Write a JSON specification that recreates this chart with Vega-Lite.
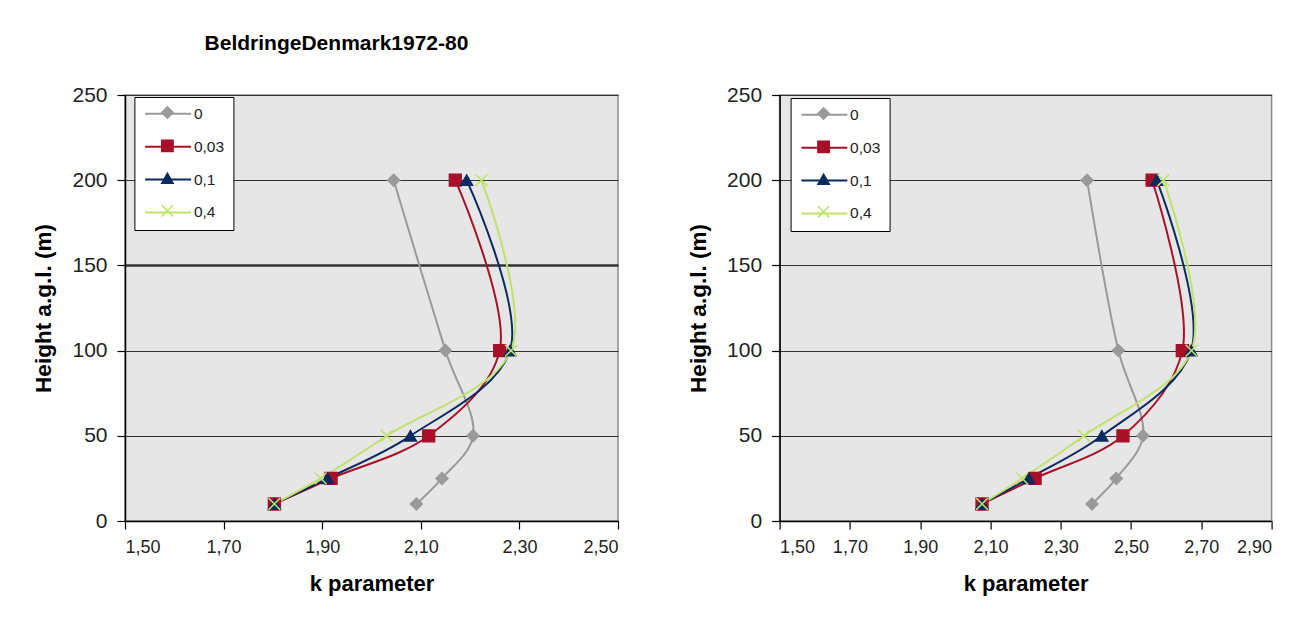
{
  "$schema": "https://vega.github.io/schema/vega-lite/v6.json",
  "background": "white",
  "padding": {"left": 32, "top": 32, "right": 10, "bottom": 10},
  "datasets": {
    "A": [
      {"series": "0", "h": 10, "k": 2.091}, {"series": "0", "h": 25, "k": 2.143}, {"series": "0", "h": 50, "k": 2.206}, {"series": "0", "h": 100, "k": 2.150}, {"series": "0", "h": 200, "k": 2.045},
      {"series": "0,03", "h": 10, "k": 1.803}, {"series": "0,03", "h": 25, "k": 1.918}, {"series": "0,03", "h": 50, "k": 2.116}, {"series": "0,03", "h": 100, "k": 2.260}, {"series": "0,03", "h": 200, "k": 2.170},
      {"series": "0,1", "h": 10, "k": 1.803}, {"series": "0,1", "h": 25, "k": 1.911}, {"series": "0,1", "h": 50, "k": 2.079}, {"series": "0,1", "h": 100, "k": 2.281}, {"series": "0,1", "h": 200, "k": 2.193},
      {"series": "0,4", "h": 10, "k": 1.803}, {"series": "0,4", "h": 25, "k": 1.897}, {"series": "0,4", "h": 50, "k": 2.031}, {"series": "0,4", "h": 100, "k": 2.283}, {"series": "0,4", "h": 200, "k": 2.223}
    ],
    "B": [
      {"series": "0", "h": 10, "k": 2.389}, {"series": "0", "h": 25, "k": 2.458}, {"series": "0", "h": 50, "k": 2.534}, {"series": "0", "h": 100, "k": 2.464}, {"series": "0", "h": 200, "k": 2.375},
      {"series": "0,03", "h": 10, "k": 2.076}, {"series": "0,03", "h": 25, "k": 2.227}, {"series": "0,03", "h": 50, "k": 2.477}, {"series": "0,03", "h": 100, "k": 2.646}, {"series": "0,03", "h": 200, "k": 2.560},
      {"series": "0,1", "h": 10, "k": 2.076}, {"series": "0,1", "h": 25, "k": 2.209}, {"series": "0,1", "h": 50, "k": 2.417}, {"series": "0,1", "h": 100, "k": 2.671}, {"series": "0,1", "h": 200, "k": 2.573},
      {"series": "0,4", "h": 10, "k": 2.076}, {"series": "0,4", "h": 25, "k": 2.190}, {"series": "0,4", "h": 50, "k": 2.366}, {"series": "0,4", "h": 100, "k": 2.672}, {"series": "0,4", "h": 200, "k": 2.592}
    ]
  },
  "bounds": "flush",
  "spacing": 161.6,
  "resolve": {
    "scale": {"x": "independent", "y": "independent", "color": "independent", "fill": "independent", "stroke": "independent", "shape": "independent"},
    "legend": {"color": "independent", "fill": "independent", "stroke": "independent", "shape": "independent"},
    "axis": {"x": "independent", "y": "independent"}
  },
  "hconcat": [
    {
      "width": 493,
      "height": 426,
      "title": {"text": "BeldringeDenmark1972-80", "fontSize": 21, "font": "Liberation Sans", "fontWeight": "bold", "color": "#000", "offset": 30, "dx": -35},
      "data": {"name": "A"},
      "encoding": {
        "x": {"field": "k", "type": "quantitative", "title": "k parameter",
              "scale": {"domain": [1.5, 2.5], "nice": false, "zero": false},
              "axis": {"values": [1.5, 1.7, 1.9, 2.1, 2.3, 2.5], "labelExpr": "replace(format(datum.value, '.2f'), '.', ',')", "grid": false}},
        "y": {"field": "h", "type": "quantitative", "title": "Height a.g.l. (m)",
              "scale": {"domain": [0, 250], "nice": false},
              "axis": {"values": [0, 50, 100, 150, 200, 250], "grid": true,
                       "gridWidth": {"condition": {"test": "datum.value === 150", "value": 2.4}, "value": 1.2}}}
      },
      "layer": [
        {
          "mark": {"type": "line", "interpolate": "catmull-rom", "strokeWidth": 2},
          "encoding": {
            "order": {"field": "h", "type": "quantitative"},
            "color": {"field": "series", "type": "nominal",
                      "scale": {"domain": ["0", "0,03", "0,1", "0,4"], "range": ["#9a9a9a", "#a8102a", "#0b2a60", "#bde36a"]},
                      "legend": {"orient": "none", "legendX": 9.4, "legendY": 2, "title": null, "symbolType": "M-4.6,0H4.6", "symbolSize": 100, "symbolStrokeWidth": 2, "symbolOffset": 17, "labelOffset": 18, "labelFontSize": 15.5, "labelFont": "Liberation Sans", "labelColor": "#222", "fillColor": "white", "strokeColor": "#000", "padding": 9, "rowPadding": 15.9}}
          }
        },
        {
          "mark": {"type": "point", "size": 140, "strokeWidth": 1.5, "opacity": 1},
          "encoding": {
            "fill": {"field": "series", "type": "nominal", "scale": {"range": ["#9a9a9a", "#a8102a", "#0b2a60", "#bde36a"]},
                     "legend": {"orient": "none", "legendX": 9.4, "legendY": 1, "title": null, "symbolSize": 130, "symbolStrokeWidth": 1.5, "symbolOffset": 16.5, "labelExpr": "''", "labelFontSize": 15, "padding": 9, "rowPadding": 14.4}},
            "stroke": {"field": "series", "type": "nominal", "scale": {"range": ["#9a9a9a", "#a8102a", "#0b2a60", "#bde36a"]},
                     "legend": {"orient": "none", "legendX": 9.4, "legendY": 1, "title": null, "symbolSize": 130, "symbolStrokeWidth": 1.5, "symbolOffset": 16.5, "labelExpr": "''", "labelFontSize": 15, "padding": 9, "rowPadding": 14.4}},
            "shape": {"field": "series", "type": "nominal", "scale": {"range": ["diamond", "square", "triangle-up", "M-1,-1L1,1M-1,1L1,-1"]},
                     "legend": {"orient": "none", "legendX": 9.4, "legendY": 1, "title": null, "symbolSize": 130, "symbolStrokeWidth": 1.5, "symbolOffset": 16.5, "labelExpr": "''", "labelFontSize": 15, "padding": 9, "rowPadding": 14.4}}
          }
        }
      ]
    },
    {
      "width": 492,
      "height": 426,
      "data": {"name": "B"},
      "encoding": {
        "x": {"field": "k", "type": "quantitative", "title": "k parameter",
              "scale": {"domain": [1.5, 2.9], "nice": false, "zero": false},
              "axis": {"values": [1.5, 1.7, 1.9, 2.1, 2.3, 2.5, 2.7, 2.9], "labelExpr": "replace(format(datum.value, '.2f'), '.', ',')", "grid": false}},
        "y": {"field": "h", "type": "quantitative", "title": "Height a.g.l. (m)",
              "scale": {"domain": [0, 250], "nice": false},
              "axis": {"values": [0, 50, 100, 150, 200, 250], "grid": true, "gridWidth": 1.2}}
      },
      "layer": [
        {
          "mark": {"type": "line", "interpolate": "catmull-rom", "strokeWidth": 2},
          "encoding": {
            "order": {"field": "h", "type": "quantitative"},
            "color": {"field": "series", "type": "nominal",
                      "scale": {"domain": ["0", "0,03", "0,1", "0,4"], "range": ["#9a9a9a", "#a8102a", "#0b2a60", "#bde36a"]},
                      "legend": {"orient": "none", "legendX": 11, "legendY": 3, "title": null, "symbolType": "M-4.6,0H4.6", "symbolSize": 100, "symbolStrokeWidth": 2, "symbolOffset": 17, "labelOffset": 18, "labelFontSize": 15.5, "labelFont": "Liberation Sans", "labelColor": "#222", "fillColor": "white", "strokeColor": "#000", "padding": 9, "rowPadding": 15.9}}
          }
        },
        {
          "mark": {"type": "point", "size": 140, "strokeWidth": 1.5, "opacity": 1},
          "encoding": {
            "fill": {"field": "series", "type": "nominal", "scale": {"range": ["#9a9a9a", "#a8102a", "#0b2a60", "#bde36a"]},
                     "legend": {"orient": "none", "legendX": 11, "legendY": 2, "title": null, "symbolSize": 130, "symbolStrokeWidth": 1.5, "symbolOffset": 16.5, "labelExpr": "''", "labelFontSize": 15, "padding": 9, "rowPadding": 14.4}},
            "stroke": {"field": "series", "type": "nominal", "scale": {"range": ["#9a9a9a", "#a8102a", "#0b2a60", "#bde36a"]},
                     "legend": {"orient": "none", "legendX": 11, "legendY": 2, "title": null, "symbolSize": 130, "symbolStrokeWidth": 1.5, "symbolOffset": 16.5, "labelExpr": "''", "labelFontSize": 15, "padding": 9, "rowPadding": 14.4}},
            "shape": {"field": "series", "type": "nominal", "scale": {"range": ["diamond", "square", "triangle-up", "M-1,-1L1,1M-1,1L1,-1"]},
                     "legend": {"orient": "none", "legendX": 11, "legendY": 2, "title": null, "symbolSize": 130, "symbolStrokeWidth": 1.5, "symbolOffset": 16.5, "labelExpr": "''", "labelFontSize": 15, "padding": 9, "rowPadding": 14.4}}
          }
        }
      ]
    }
  ],
  "config": {
    "font": "Liberation Sans",
    "view": {"fill": "#e6e6e6", "stroke": "#8c8c8c", "strokeWidth": 1.5},
    "axis": {
      "domainColor": "#000", "domainWidth": 1.5,
      "tickColor": "#000", "tickSize": 8, "tickWidth": 1.2,
      "labelFont": "Liberation Sans", "labelColor": "#222",
      "titleFont": "Liberation Sans", "titleFontWeight": "bold", "titleFontSize": 22, "titleColor": "#000",
      "gridColor": "#333333"
    },
    "axisX": {"labelFontSize": 18, "labelPadding": 9, "titlePadding": 17},
    "axisY": {"labelFontSize": 21, "labelPadding": 10, "titlePadding": 16, "titleFontSize": 22.5}
  }
}
